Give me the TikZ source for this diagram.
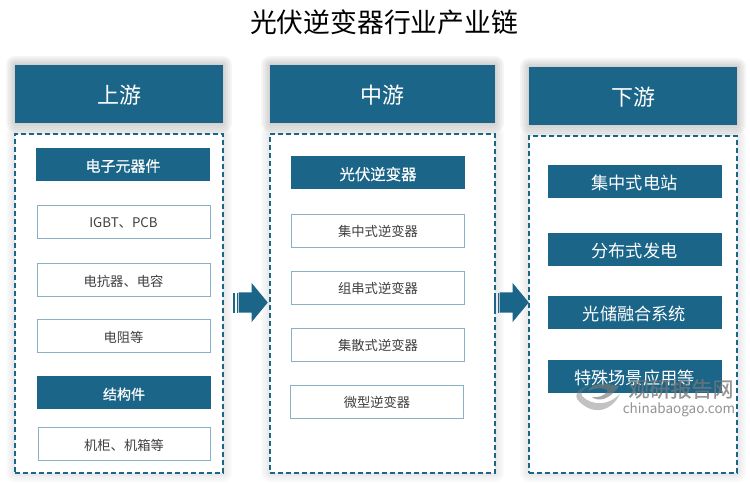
\documentclass[tikz,border=0pt]{standalone}
\usepackage{fontspec}
\usepackage{tikz}
\usetikzlibrary{shapes.arrows}
\setmainfont[BoldFont={Noto Sans CJK SC},BoldFeatures={FakeBold=.5}]{Noto Sans CJK SC}
\definecolor{blue1}{RGB}{26, 101, 136}
\definecolor{blue2}{RGB}{137, 176, 196}
\definecolor{text1}{RGB}{64, 64, 64}
\definecolor{mark1}{RGB}{120, 120, 120}
\tikzset{
  header/.style={fill=blue1, text=white, minimum width=208pt, minimum height=58pt, inner sep=0pt, text height=19pt, text depth=0pt, font=\fontsize{22}{24}\selectfont},
  panel/.style={draw=blue1, line width=1.6pt, dash pattern=on 5pt off 3pt, fill=white, inner sep=0pt},
  darkbox/.style={fill=blue1, text=white, minimum width=174pt, minimum height=33pt, inner sep=0pt, text height=14pt, text depth=0pt},
  lightbox/.style={draw=blue2, line width=.9pt, fill=white, text=text1, minimum width=173pt, minimum height=33pt, inner sep=0pt, text height=12pt, text depth=0pt, font=\fontsize{13.3}{16}\selectfont},
  bigarrow/.style={single arrow, fill=blue1, inner sep=0pt, minimum width=39pt, minimum height=29pt, single arrow head extend=9.5pt, single arrow tip angle=101},
}
\begin{document}
\begin{tikzpicture}[x=1pt, y=-1pt]
  \useasboundingbox (0,0) rectangle (750,484);
  % soft shadows
  \foreach \xa/\ya/\xb/\yb/\op in {15/65/223/123/.04, 270/65/495/123/.04, 529/67/737/125/.04, 15/134/223/473/.018, 270/134/495/473/.018, 529/136/737/473/.018}
    \foreach \sh in {9,7,5,3,1}
      \fill[black,opacity=\op,rounded corners=\sh pt] (\xa-\sh,\ya-\sh) rectangle (\xb+\sh,\yb+\sh);

  \node[font=\fontsize{26.8}{30}\selectfont, text=black] (title) at (384,22) {光伏逆变器行业产业链};

  \node[header] (up) at (119,94) {上游};
  \node[header, minimum width=225pt] (mid) at (382.5,94) {中游};
  \node[header] (down) at (633,96) {下游};

  \node[panel, minimum width=208pt, minimum height=339pt] (uppanel) at (119,303.5) {};
  \node[panel, minimum width=225pt, minimum height=339pt] (midpanel) at (382.5,303.5) {};
  \node[panel, minimum width=208pt, minimum height=337pt] (downpanel) at (633,304.5) {};

  \node[darkbox, font=\fontsize{15}{16}\selectfont\bfseries, text height=14.4pt] (u1) at (123,164.5) {电子元器件};
  \node[lightbox] (u2) at (123.5,221.5) {IGBT、PCB};
  \node[lightbox] (u3) at (123.5,280) {电抗器、电容};
  \node[lightbox] (u4) at (123.5,336) {电阻等};
  \node[darkbox, font=\fontsize{14}{16}\selectfont\bfseries] (u5) at (124,392.5) {结构件};
  \node[lightbox, minimum width=172pt] (u6) at (124,444) {机柜、机箱等};

  \node[darkbox, font=\fontsize{15.4}{16}\selectfont\bfseries] (m1) at (378,173) {光伏逆变器};
  \node[lightbox] (m2) at (378,230.5) {集中式逆变器};
  \node[lightbox] (m3) at (378,287.5) {组串式逆变器};
  \node[lightbox] (m4) at (378,344.5) {集散式逆变器};
  \node[lightbox] (m5) at (377,401.5) {微型逆变器};

  \node[darkbox, font=\fontsize{17.2}{18}\selectfont, text height=16pt] (d1) at (634.5,181.5) {集中式电站};
  \node[darkbox, font=\fontsize{17.2}{18}\selectfont, text height=16pt] (d2) at (634.5,249.5) {分布式发电};
  \node[darkbox, font=\fontsize{17.2}{18}\selectfont, text height=16pt] (d3) at (634.5,312) {光储融合系统};
  \node[darkbox, font=\fontsize{17.2}{18}\selectfont, text height=16pt] (d4) at (634.5,376) {特殊场景应用等};

  % block arrows with two stripes at the tail
  \foreach \name/\cx in {arrowa/253.5, arrowb/514.5}{
    \node[bigarrow, anchor=tip] (\name) at (\cx+14.5,302.5) {\rule{0pt}{20pt}};
    \fill[blue1] (\cx-20.5,293) rectangle (\cx-18.5,313);
    \fill[blue1] (\cx-17,293) rectangle (\cx-15.5,313);
  }

  % watermark
  \node[font=\fontsize{21}{22}\selectfont\bfseries, text=mark1, opacity=.75, inner sep=0pt] (mark) at (681,389) {观研报告网};
  \node[font=\fontsize{13.5}{15}\selectfont, text=mark1, opacity=.8, inner sep=0pt] (markurl) at (679,410) {chinabaogao.com};
  \fill[mark1, opacity=.45] (577,399) .. controls (590,415) and (610,414) .. (620,394) .. controls (608,406) and (592,406) .. (582,396) .. controls (580,392) and (584,388) .. (590,386) .. controls (582,386) and (574,392) .. (577,399);
  \fill[mark1, opacity=.65] (592,397) .. controls (598,402) and (610,400) .. (619,386) .. controls (606,383) and (592,382) .. (588,391) .. controls (596,387) and (606,388) .. (608,391) .. controls (604,396) and (598,398) .. (592,397);
\end{tikzpicture}
\end{document}
